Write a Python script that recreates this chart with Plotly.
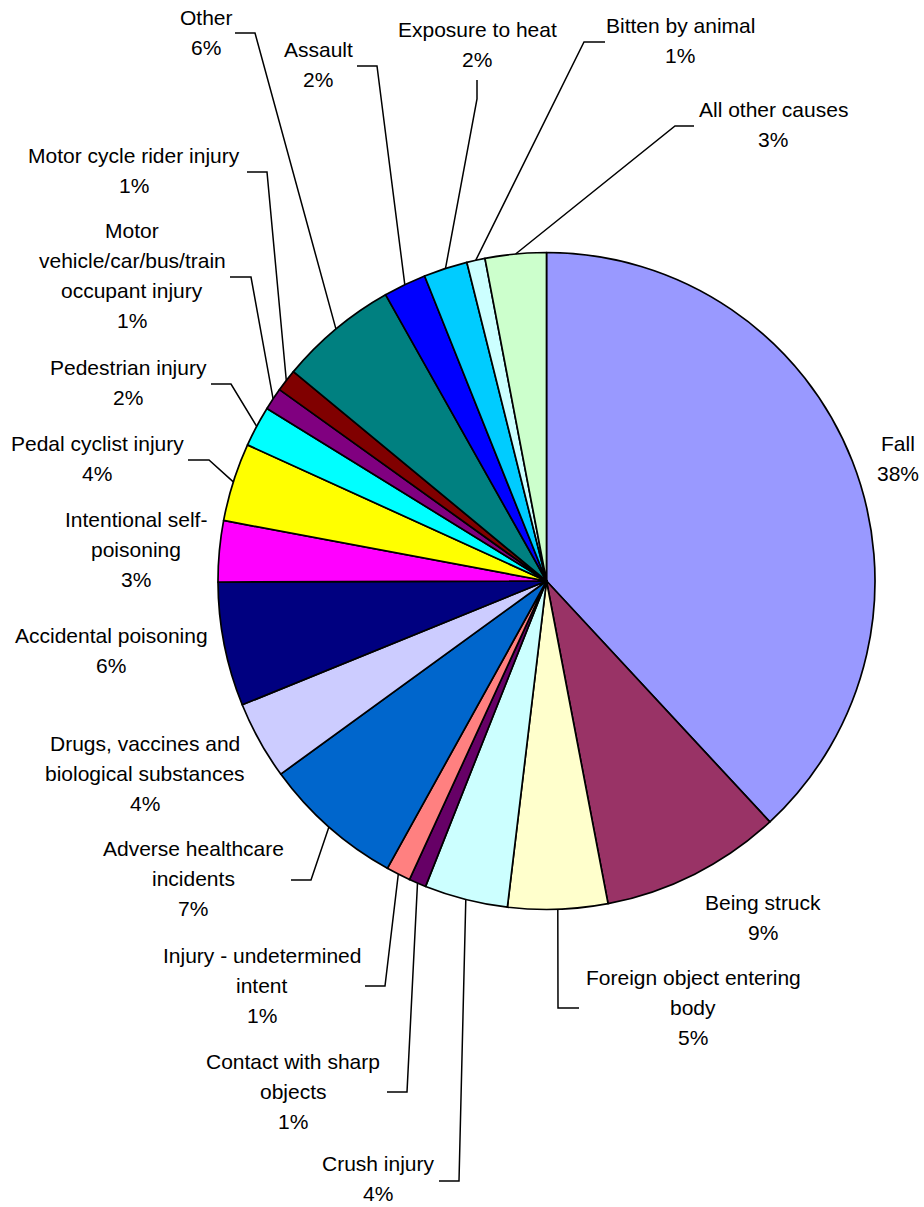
import math
import plotly.graph_objects as go

# Injury causes, clockwise from 12 o'clock, with their share of cases (%)
categories = [
    "Fall", "Being struck", "Foreign object entering body", "Crush injury",
    "Contact with sharp objects", "Injury - undetermined intent",
    "Adverse healthcare incidents", "Drugs, vaccines and biological substances",
    "Accidental poisoning", "Intentional self-poisoning", "Pedal cyclist injury",
    "Pedestrian injury", "Motor vehicle/car/bus/train occupant injury",
    "Motor cycle rider injury", "Other", "Assault", "Exposure to heat",
    "Bitten by animal", "All other causes",
]
shares = [
    38.1, 8.9, 4.9, 4.1, 0.85, 1.2, 6.95, 3.85, 6.1, 3.0, 3.85,
    2.0, 1.1, 1.1, 5.85, 2.1, 2.15, 0.9, 3.0,
]
colors = [
    "#9999FF", "#993366", "#FFFFCC", "#CCFFFF", "#660066", "#FF8080",
    "#0066CC", "#CCCCFF", "#000080", "#FF00FF", "#FFFF00", "#00FFFF",
    "#800080", "#800000", "#008080", "#0000FF", "#00CCFF", "#CCFFFF",
    "#CCFFCC",
]

# How each category name wraps in its label
wrapped = {
    "Foreign object entering body": ["Foreign object entering", "body"],
    "Contact with sharp objects": ["Contact with sharp", "objects"],
    "Injury - undetermined intent": ["Injury - undetermined", "intent"],
    "Adverse healthcare incidents": ["Adverse healthcare", "incidents"],
    "Drugs, vaccines and biological substances": ["Drugs, vaccines and", "biological substances"],
    "Intentional self-poisoning": ["Intentional self-", "poisoning"],
    "Motor vehicle/car/bus/train occupant injury": ["Motor", "vehicle/car/bus/train", "occupant injury"],
}

# Label placement in page pixels: text centre x, first line y, leader elbow + end
label_place = {
    "Fall": (898, 443, None),
    "Being struck": (763, 902, None),
    "Foreign object entering body": (693, 977, [(558, 1008), (579, 1008)]),
    "Crush injury": (378, 1163, [(459, 1181), (439, 1181)]),
    "Contact with sharp objects": (293, 1061, [(407, 1092), (387, 1092)]),
    "Injury - undetermined intent": (262, 955, [(385, 986), (365, 986)]),
    "Adverse healthcare incidents": (193, 848, [(311, 880), (291, 880)]),
    "Drugs, vaccines and biological substances": (145, 743, None),
    "Accidental poisoning": (111, 635, None),
    "Intentional self-poisoning": (136, 519, None),
    "Pedal cyclist injury": (97, 443, [(209, 460), (188, 460)]),
    "Pedestrian injury": (128, 367, [(231, 384), (211, 384)]),
    "Motor vehicle/car/bus/train occupant injury": (132, 230, [(251, 277), (230, 277)]),
    "Motor cycle rider injury": (134, 155, [(267, 172), (247, 172)]),
    "Other": (206, 17, [(255, 33), (235, 33)]),
    "Assault": (318, 49, [(377, 66), (357, 66)]),
    "Exposure to heat": (477, 29, [(477, 99), (477, 80)]),
    "Bitten by animal": (680, 25, [(584, 42), (605, 42)]),
    "All other causes": (773, 109, [(675, 126), (694, 126)]),
}

W, H = 924, 1207
CX, CY, R = 546.5, 581.0, 328.5
LINE_GAP = 30
FONT = dict(family="Liberation Sans, Arial, sans-serif", size=21, color="black")

fig = go.Figure()
fig.add_trace(go.Pie(
    labels=categories,
    values=shares,
    sort=False,
    direction="clockwise",
    rotation=0,
    textinfo="none",
    hoverinfo="label+percent",
    marker=dict(colors=colors, line=dict(color="black", width=1.7)),
    domain=dict(x=[(CX - R) / W, (CX + R) / W],
                y=[(H - (CY + R)) / H, (H - (CY - R)) / H]),
    showlegend=False,
))

total = sum(shares)
annotations = []
shapes = []
cum = 0.0
for name, v in zip(categories, shares):
    mid = (cum + v / 2) / total * 2 * math.pi
    cum += v
    px = CX + R * math.sin(mid)
    py = CY - R * math.cos(mid)
    x, y0, leader = label_place[name]
    lines = wrapped.get(name, [name]) + [f"{round(v / total * 100)}%"]
    for i, txt in enumerate(lines):
        annotations.append(dict(
            x=x, y=y0 + i * LINE_GAP, xref="x", yref="y", text=txt,
            showarrow=False, xanchor="center", yanchor="middle", font=FONT,
        ))
    if leader:
        pts = [(px, py)] + leader
        path = "M " + " L ".join(f"{a:.1f},{b:.1f}" for a, b in pts)
        shapes.append(dict(type="path", path=path, xref="x", yref="y",
                           line=dict(color="black", width=1.5)))

fig.update_layout(
    width=W, height=H, autosize=False,
    margin=dict(l=0, r=0, t=0, b=0),
    paper_bgcolor="white", plot_bgcolor="rgba(0,0,0,0)",
    xaxis=dict(range=[0, W], visible=False, fixedrange=True, domain=[0, 1]),
    yaxis=dict(range=[H, 0], visible=False, fixedrange=True, domain=[0, 1]),
    annotations=annotations,
    shapes=shapes,
)

fig.write_html("out.html")
